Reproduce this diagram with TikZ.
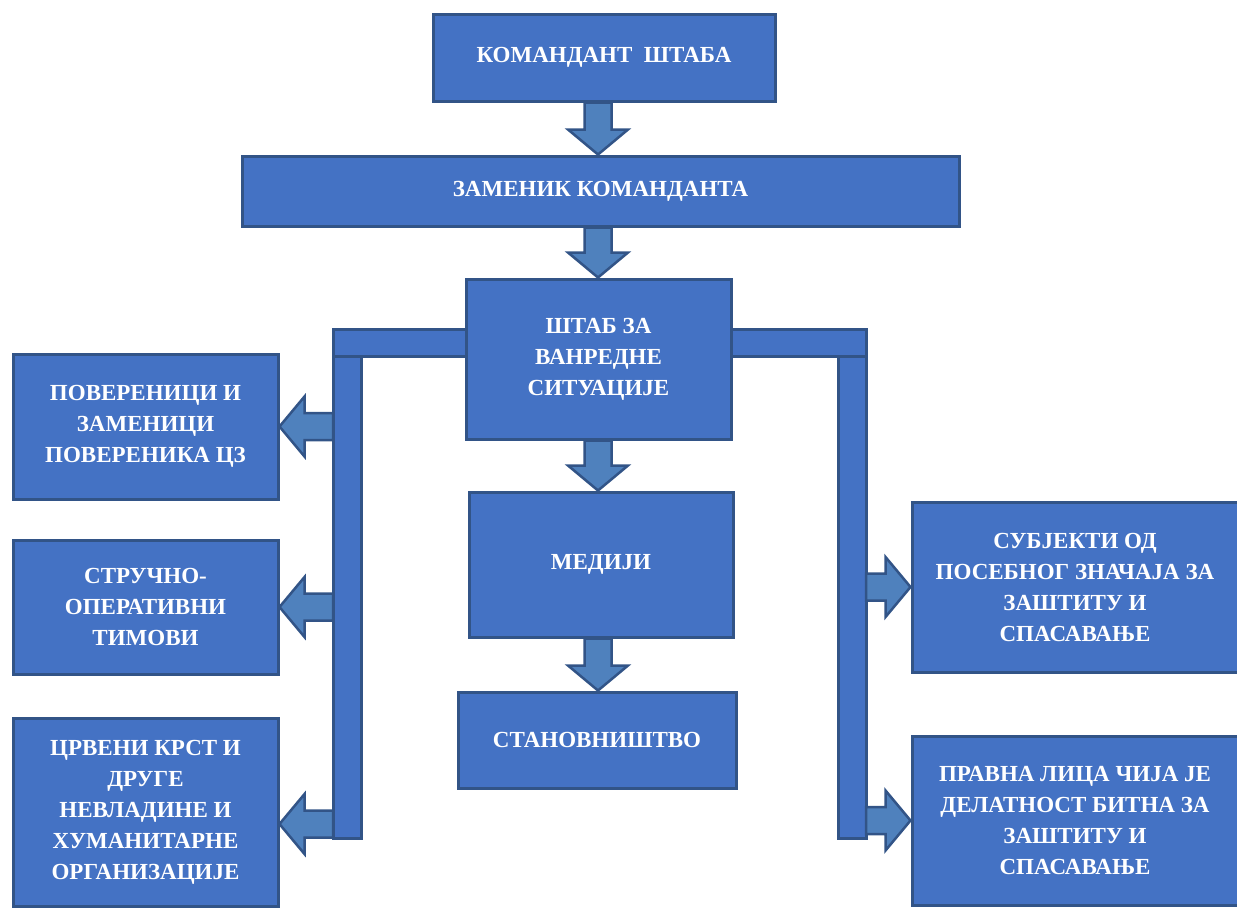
\documentclass[tikz,border=0pt]{standalone}
\usepackage{fontspec}
\setmainfont{Liberation Serif}
\usetikzlibrary{calc}

\definecolor{boxblue}{RGB}{68,114,196}
\definecolor{boxline}{RGB}{50,84,135}
\definecolor{arrowblue}{RGB}{79,129,189}

\tikzset{
  box/.style={draw=boxline, line width=3pt, fill=boxblue, text=white,
    font=\bfseries\fontsize{23}{31}\selectfont, align=center, inner sep=0pt},
  bar/.style={draw=boxline, line width=3pt, fill=boxblue},
  arrowbody/.style={draw=boxline, line width=2.5pt, fill=arrowblue, line join=miter},
}

% block arrow from #1 to its tip #2
\newcommand{\blockarrow}[2]{%
  \path ($(#2)!25pt!(#1)$) coordinate (hb);
  \draw[arrowbody] ($(#1)!13.5pt!90:(#2)$) -- ($(hb)!13.5pt!90:(#2)$)
    -- ($(hb)!30pt!90:(#2)$) -- (#2) -- ($(hb)!30pt!-90:(#2)$)
    -- ($(hb)!13.5pt!-90:(#2)$) -- ($(#1)!13.5pt!-90:(#2)$) -- cycle;}

\begin{document}
\begin{tikzpicture}
        [x=1pt,y=-1pt]
        \useasboundingbox (0,0) rectangle (1237,908);
        \coordinate (axis) at (598,0);
        \coordinate (lspine) at (333,329);
        \coordinate (rspine) at (866,329);

        % side bars
        \draw[bar] (lspine) rectangle ($(lspine)+(28,509)$);
        \draw[bar] (rspine) rectangle ($(rspine)+(-28,509)$);
        \draw[bar] (lspine) rectangle (466,356);
        \draw[bar] (rspine) rectangle (731,356);

        % middle column
        \node[box, minimum width=342pt, minimum height=87pt] (cmd) at (604,57.5) {КОМАНДАНТ\ \ ШТАБА};
        \node[box, minimum width=717pt, minimum height=70pt] (dep) at (600.5,191) {ЗАМЕНИК КОМАНДАНТА};
        \node[box, minimum width=265pt, minimum height=160pt] (stab) at (598.5,359) {ШТАБ ЗА\\ВАНРЕДНЕ\\СИТУАЦИЈЕ};
        \node[box, minimum width=264pt, minimum height=145pt] (media) at (601,564.5) {МЕДИЈИ};
        \node[box, minimum width=278pt, minimum height=96pt] (pop) at (597,740) {СТАНОВНИШТВО};

        % left column
        \node[box, minimum width=265pt, minimum height=145pt] (trust) at (145.5,426.5) {ПОВЕРЕНИЦИ И\\ЗАМЕНИЦИ\\ПОВЕРЕНИКА ЦЗ};
        \node[box, minimum width=265pt, minimum height=134pt] (teams) at (145.5,607) {СТРУЧНО-\\ОПЕРАТИВНИ\\ТИМОВИ};
        \node[box, minimum width=265pt, minimum height=188pt] (red) at (145.5,812) {ЦРВЕНИ КРСТ И\\ДРУГЕ\\НЕВЛАДИНЕ И\\ХУМАНИТАРНЕ\\ОРГАНИЗАЦИЈЕ};

        % right column
        \node[box, minimum width=326pt, minimum height=170pt] (subj) at (1075,587) {СУБЈЕКТИ ОД\\ПОСЕБНОГ ЗНАЧАЈА ЗА\\ЗАШТИТУ И\\СПАСАВАЊЕ};
        \node[box, minimum width=326pt, minimum height=169pt] (legal) at (1075,820.5) {ПРАВНА ЛИЦА ЧИЈА ЈЕ\\ДЕЛАТНОСТ БИТНА ЗА\\ЗАШТИТУ И\\СПАСАВАЊЕ};

        % arrows down the middle
        \foreach \s/\t [count=\i] in {cmd/dep,dep/stab,stab/media,media/pop}
        {\coordinate (s\i) at (\s.south -| axis);
         \coordinate (t\i) at (\t.north -| axis);
         \blockarrow{s\i}{t\i}}

        % arrows to the sides
        \path (red.east) ++(0,12) coordinate (redtip);
        \foreach \t [count=\i] in {trust.east,teams.east,redtip}
        {\coordinate (l\i) at (\t -| lspine);
         \blockarrow{l\i}{\t}}
        \foreach \t [count=\i] in {subj.west,legal.west}
        {\coordinate (r\i) at (\t -| rspine);
         \blockarrow{r\i}{\t}}
      \end{tikzpicture}
\end{document}
